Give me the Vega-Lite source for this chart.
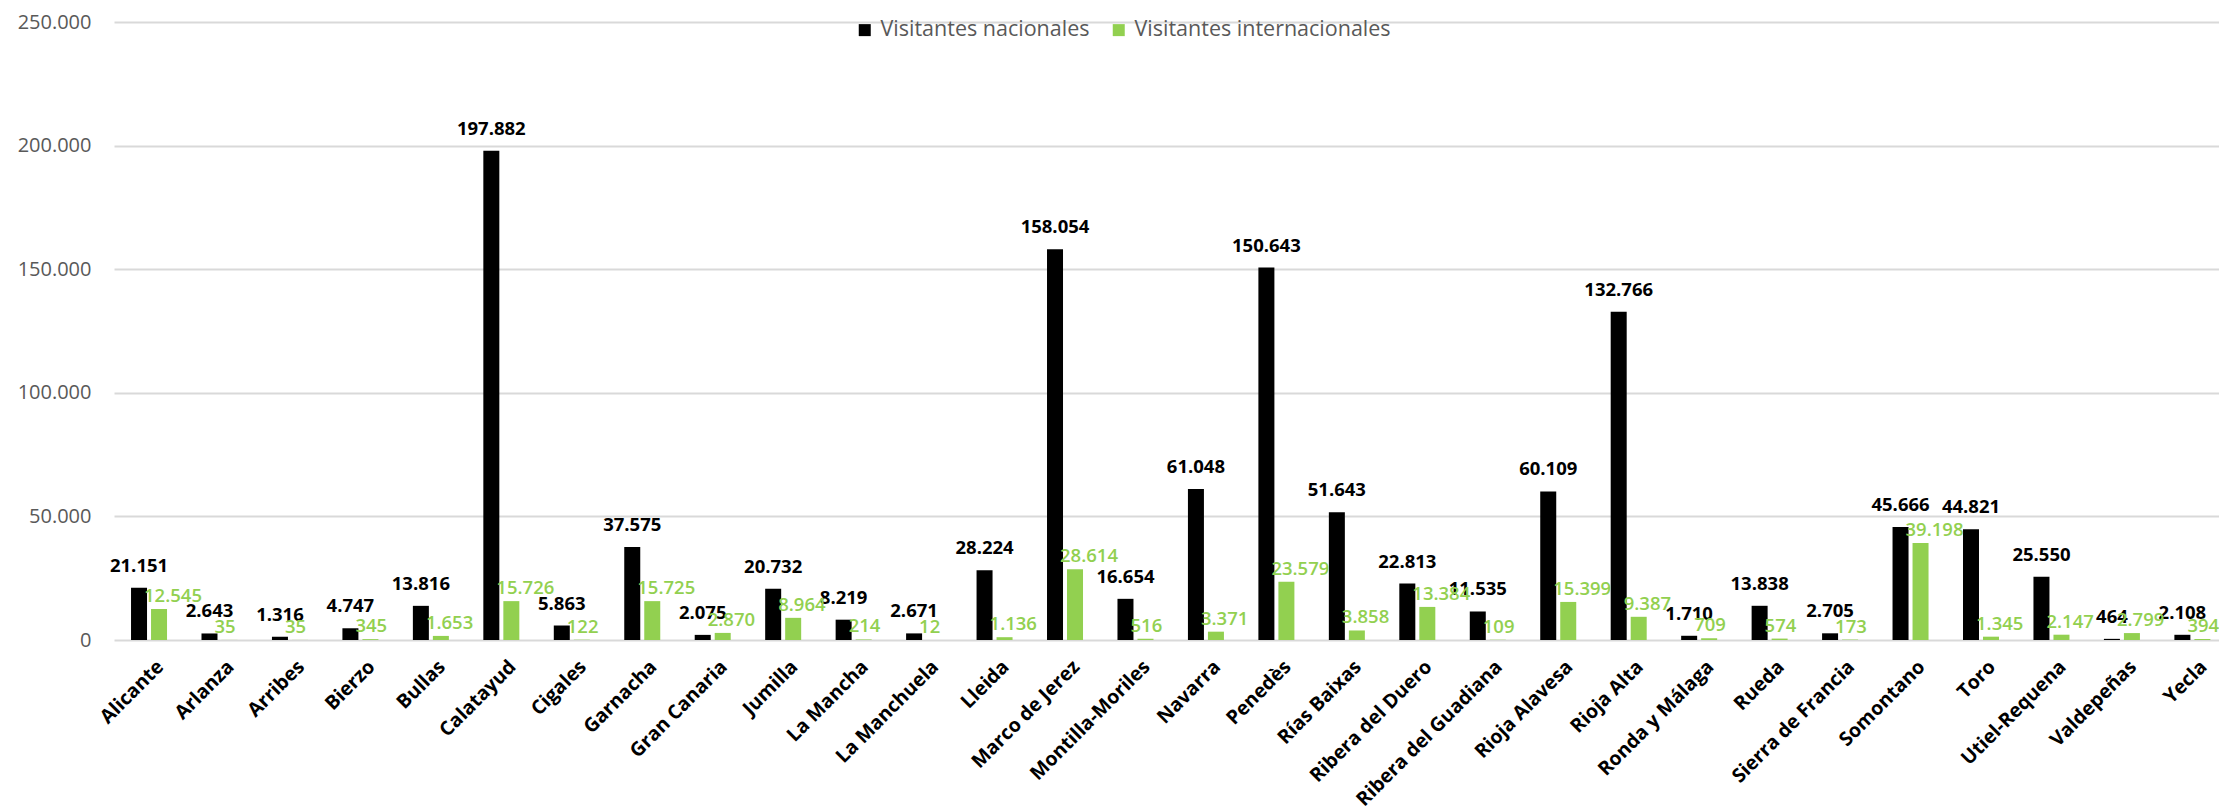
{
  "$schema": "https://vega.github.io/schema/vega-lite/v6.json",
  "width": 2105,
  "height": 618,
  "autosize": {"type": "none"},
  "padding": {"left": 114, "top": 22, "right": 0, "bottom": 172},
  "background": "#ffffff",
  "config": {
    "locale": {"number": {"decimal": ",", "thousands": ".", "grouping": [3], "currency": ["", " €"]}},
    "view": {"stroke": null},
    "font": "Open Sans"
  },
  "data": {"values": [
    {"region": "Alicante", "serie": "Visitantes nacionales", "value": 21151},
    {"region": "Alicante", "serie": "Visitantes internacionales", "value": 12545},
    {"region": "Arlanza", "serie": "Visitantes nacionales", "value": 2643},
    {"region": "Arlanza", "serie": "Visitantes internacionales", "value": 35},
    {"region": "Arribes", "serie": "Visitantes nacionales", "value": 1316},
    {"region": "Arribes", "serie": "Visitantes internacionales", "value": 35},
    {"region": "Bierzo", "serie": "Visitantes nacionales", "value": 4747},
    {"region": "Bierzo", "serie": "Visitantes internacionales", "value": 345},
    {"region": "Bullas", "serie": "Visitantes nacionales", "value": 13816},
    {"region": "Bullas", "serie": "Visitantes internacionales", "value": 1653},
    {"region": "Calatayud", "serie": "Visitantes nacionales", "value": 197882},
    {"region": "Calatayud", "serie": "Visitantes internacionales", "value": 15726},
    {"region": "Cigales", "serie": "Visitantes nacionales", "value": 5863},
    {"region": "Cigales", "serie": "Visitantes internacionales", "value": 122},
    {"region": "Garnacha", "serie": "Visitantes nacionales", "value": 37575},
    {"region": "Garnacha", "serie": "Visitantes internacionales", "value": 15725},
    {"region": "Gran Canaria", "serie": "Visitantes nacionales", "value": 2075},
    {"region": "Gran Canaria", "serie": "Visitantes internacionales", "value": 2870},
    {"region": "Jumilla", "serie": "Visitantes nacionales", "value": 20732},
    {"region": "Jumilla", "serie": "Visitantes internacionales", "value": 8964},
    {"region": "La Mancha", "serie": "Visitantes nacionales", "value": 8219},
    {"region": "La Mancha", "serie": "Visitantes internacionales", "value": 214},
    {"region": "La Manchuela", "serie": "Visitantes nacionales", "value": 2671},
    {"region": "La Manchuela", "serie": "Visitantes internacionales", "value": 12},
    {"region": "Lleida", "serie": "Visitantes nacionales", "value": 28224},
    {"region": "Lleida", "serie": "Visitantes internacionales", "value": 1136},
    {"region": "Marco de Jerez", "serie": "Visitantes nacionales", "value": 158054},
    {"region": "Marco de Jerez", "serie": "Visitantes internacionales", "value": 28614},
    {"region": "Montilla-Moriles", "serie": "Visitantes nacionales", "value": 16654},
    {"region": "Montilla-Moriles", "serie": "Visitantes internacionales", "value": 516},
    {"region": "Navarra", "serie": "Visitantes nacionales", "value": 61048},
    {"region": "Navarra", "serie": "Visitantes internacionales", "value": 3371},
    {"region": "Penedès", "serie": "Visitantes nacionales", "value": 150643},
    {"region": "Penedès", "serie": "Visitantes internacionales", "value": 23579},
    {"region": "Rías Baixas", "serie": "Visitantes nacionales", "value": 51643},
    {"region": "Rías Baixas", "serie": "Visitantes internacionales", "value": 3858},
    {"region": "Ribera del Duero", "serie": "Visitantes nacionales", "value": 22813},
    {"region": "Ribera del Duero", "serie": "Visitantes internacionales", "value": 13384},
    {"region": "Ribera del Guadiana", "serie": "Visitantes nacionales", "value": 11535},
    {"region": "Ribera del Guadiana", "serie": "Visitantes internacionales", "value": 109},
    {"region": "Rioja Alavesa", "serie": "Visitantes nacionales", "value": 60109},
    {"region": "Rioja Alavesa", "serie": "Visitantes internacionales", "value": 15399},
    {"region": "Rioja Alta", "serie": "Visitantes nacionales", "value": 132766},
    {"region": "Rioja Alta", "serie": "Visitantes internacionales", "value": 9387},
    {"region": "Ronda y Málaga", "serie": "Visitantes nacionales", "value": 1710},
    {"region": "Ronda y Málaga", "serie": "Visitantes internacionales", "value": 709},
    {"region": "Rueda", "serie": "Visitantes nacionales", "value": 13838},
    {"region": "Rueda", "serie": "Visitantes internacionales", "value": 574},
    {"region": "Sierra de Francia", "serie": "Visitantes nacionales", "value": 2705},
    {"region": "Sierra de Francia", "serie": "Visitantes internacionales", "value": 173},
    {"region": "Somontano", "serie": "Visitantes nacionales", "value": 45666},
    {"region": "Somontano", "serie": "Visitantes internacionales", "value": 39198},
    {"region": "Toro", "serie": "Visitantes nacionales", "value": 44821},
    {"region": "Toro", "serie": "Visitantes internacionales", "value": 1345},
    {"region": "Utiel-Requena", "serie": "Visitantes nacionales", "value": 25550},
    {"region": "Utiel-Requena", "serie": "Visitantes internacionales", "value": 2147},
    {"region": "Valdepeñas", "serie": "Visitantes nacionales", "value": 464},
    {"region": "Valdepeñas", "serie": "Visitantes internacionales", "value": 2799},
    {"region": "Yecla", "serie": "Visitantes nacionales", "value": 2108},
    {"region": "Yecla", "serie": "Visitantes internacionales", "value": 394}
  ]},
  "encoding": {
    "x": {
      "field": "region", "type": "nominal", "sort": null,
      "scale": {"paddingInner": 0.489, "paddingOuter": 0.182, "align": 0.664},
      "axis": {
        "title": null, "domain": false, "ticks": false, "labelAngle": -45,
        "labelFont": "Open Sans", "labelFontSize": 19.5, "labelFontWeight": "bold",
        "labelColor": "#000000", "labelPadding": 17, "labelOffset": 5, "labelOverlap": false, "labelLimit": 400
      }
    },
    "xOffset": {
      "field": "serie", "type": "nominal", "sort": ["Visitantes nacionales", "Visitantes internacionales"],
      "scale": {"paddingInner": 0.2, "paddingOuter": 0}
    },
    "y": {
      "field": "value", "type": "quantitative",
      "scale": {"domain": [0, 250000], "nice": false},
      "axis": {
        "title": null, "domain": false, "ticks": false, "values": [0, 50000, 100000, 150000, 200000, 250000],
        "format": ",d", "labelFont": "Open Sans", "labelFontSize": 20, "labelColor": "#595959",
        "labelPadding": 23, "gridColor": "#d9d9d9", "gridWidth": 2
      }
    }
  },
  "layer": [
    {
      "mark": {"type": "bar"},
      "encoding": {
        "color": {
          "field": "serie", "type": "nominal",
          "scale": {"domain": ["Visitantes nacionales", "Visitantes internacionales"], "range": ["#000000", "#92D050"]},
          "legend": {
            "title": null, "orient": "none", "direction": "horizontal", "legendX": 740, "legendY": -3,
            "symbolType": "square", "symbolSize": 144, "symbolStrokeWidth": 0,
            "labelFont": "Open Sans", "labelFontSize": 21.5, "labelColor": "#595959", "labelOffset": 5,
            "labelLimit": 600, "columnPadding": 18, "padding": 0
          }
        }
      }
    },
    {
      "transform": [{"filter": "datum.serie === 'Visitantes nacionales'"}],
      "mark": {"type": "text", "font": "Open Sans", "fontSize": 18.5, "fontWeight": "bold", "color": "#000000", "align": "center", "baseline": "alphabetic", "dy": -16},
      "encoding": {"text": {"field": "value", "type": "quantitative", "format": ",d"}}
    },
    {
      "transform": [{"filter": "datum.serie === 'Visitantes internacionales'"}],
      "mark": {"type": "text", "font": "Open Sans", "fontSize": 18.5, "fontWeight": 600, "color": "#92D050", "align": "left", "baseline": "alphabetic", "dx": -15, "dy": -7},
      "encoding": {"text": {"field": "value", "type": "quantitative", "format": ",d"}}
    }
  ]
}
